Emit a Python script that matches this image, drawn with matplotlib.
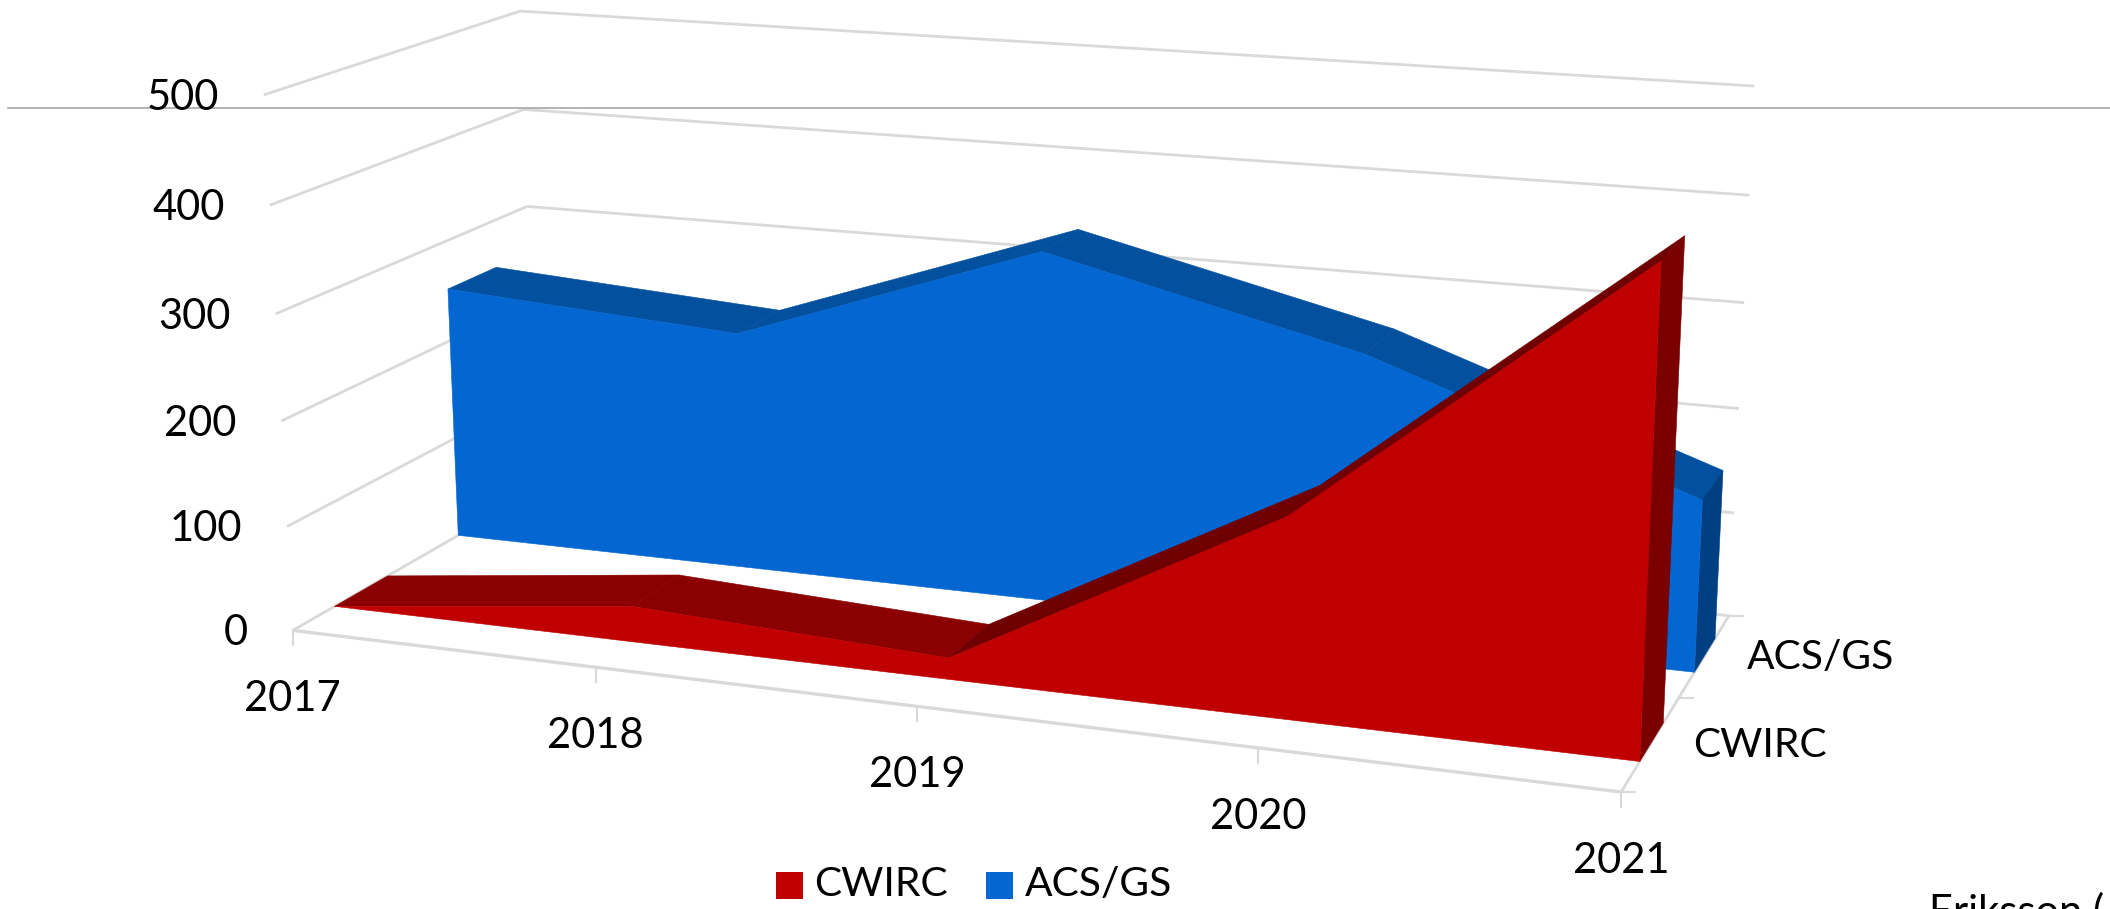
import numpy as np
import matplotlib
matplotlib.use('Agg')
import matplotlib.pyplot as plt
from matplotlib.patches import Polygon, Rectangle

plt.rcParams['font.family'] = ['Lato', 'DejaVu Sans']

years = ['2017', '2018', '2019', '2020', '2021']
series_names = ['CWIRC', 'ACS/GS']
y_ticks = [0, 100, 200, 300, 400, 500]
cwirc = [0, 34, 20, 182, 428]
acs_gs = [252, 233, 337, 266, 160]

# depth slots of the two series, 0 = front of the floor, 1 = back wall
cwirc_depth = (0.155, 0.36)
acs_depth = (0.65, 0.855)

# camera: (year index, value, depth) -> pixel, fitted on the axis corners
cam_world = [(0, 0, 0), (0, 100, 0), (0, 200, 0), (0, 300, 0), (0, 400, 0), (0, 500, 0),
             (1, 0, 0), (2, 0, 0), (3, 0, 0), (4, 0, 0),
             (0, 0, 1), (0, 300, 1), (0, 400, 1), (0, 500, 1),
             (4, 0, 1), (4, 100, 1), (4, 200, 1), (4, 300, 1), (4, 400, 1), (4, 500, 1),
             (4, 0, 0.5)]
cam_pixel = [(291.5, 630), (287, 527), (281, 422), (276, 315), (270.5, 205), (265, 95),
             (595, 668), (916, 706), (1258, 745), (1621.4, 792),
             (540, 490), (527, 206), (522, 108), (520, 11),
             (1728, 616), (1733, 514), (1739, 409), (1744, 303), (1749, 195), (1755, 86),
             (1681, 698)]


def fit_camera(world, pixel):
    rows, rhs = [], []
    for (x, v, z), (px, py) in zip(world, pixel):
        v = v / 100
        rows.append([x, v, z, 1, 0, 0, 0, 0, -px * x, -px * v, -px * z])
        rhs.append(px)
        rows.append([0, 0, 0, 0, x, v, z, 1, -py * x, -py * v, -py * z])
        rhs.append(py)
    sol = np.linalg.lstsq(np.array(rows), np.array(rhs), rcond=None)[0]
    return np.append(sol, 1).reshape(3, 4)


camera = fit_camera(cam_world, cam_pixel)


def project(x, v, z):
    h = camera @ np.array([x, v / 100, z, 1.0])
    return h[0] / h[2], h[1] / h[2]


fig = plt.figure(figsize=(21.10, 9.09), dpi=100)
ax = fig.add_axes([0, 0, 1, 1])
ax.set_xlim(0, 2110)
ax.set_ylim(909, 0)
ax.axis('off')

GRID = '#D9D9D9'


def line3d(p0, p1, lw=2.0):
    a, b = project(*p0), project(*p1)
    ax.plot([a[0], b[0]], [a[1], b[1]], color=GRID, lw=lw, solid_capstyle='butt', zorder=1)


# walls
for t in y_ticks:
    line3d((0, t, 0), (0, t, 1))
    line3d((0, t, 1), (4, t, 1))
line3d((0, 0, 0), (4, 0, 0), lw=2.4)
line3d((4, 0, 0), (4, 0, 1))

# ticks
for i in range(len(years)):
    px, py = project(i, 0, 0)
    ax.plot([px, px], [py, py + 15], color=GRID, lw=1.5, zorder=1)
for z in [0, 0.5, 1]:
    px, py = project(4, 0, z)
    ax.plot([px, px + 14], [py, py], color=GRID, lw=1.5, zorder=1)


def face(points, color, z):
    ax.add_patch(Polygon([project(*p) for p in points], closed=True, facecolor=color,
                         edgecolor=color, lw=0.4, zorder=z))


def area(values, depth, front, top_fall, top_rise, side, z):
    zf, zb = depth
    n = len(values)
    for i in range(n - 1):
        col = top_rise if values[i + 1] - values[i] > 60 else top_fall
        face([(i, values[i], zf), (i + 1, values[i + 1], zf),
              (i + 1, values[i + 1], zb), (i, values[i], zb)], col, z)
    face([(n - 1, values[-1], zf), (n - 1, values[-1], zb), (n - 1, 0, zb), (n - 1, 0, zf)], side, z)
    pts = [(i, values[i], zf) for i in range(n)] + [(n - 1, 0, zf), (0, 0, zf)]
    face(pts, front, z + 0.1)


area(acs_gs, acs_depth, '#0366D1', '#03509F', '#03509F', '#004082', 2)
area(cwirc, cwirc_depth, '#C00000', '#8B0000', '#700000', '#7A0000', 3)

# the stray rule across the slide
ax.plot([8, 2110], [108, 108], color='#A6A6A6', lw=1.2, zorder=4)

FS = 30
for t in y_ticks:
    px, py = project(0, t, 0)
    ax.text(px - 45, py + 3, str(t), ha='right', va='center', fontsize=FS, color='black', zorder=5)
for i, lab in enumerate(years):
    px, py = project(i, 0, 0)
    ax.text(px, py + 69, lab, ha='center', va='center', fontsize=FS, color='black', zorder=5)
for name, z in zip(series_names, [0.25, 0.75]):
    px, py = project(4, 0, z)
    ax.text(px + 42, py + 2, name, ha='left', va='center', fontsize=29.3, color='black', zorder=5)

# legend
ax.add_patch(Rectangle((776, 872), 27, 27, facecolor='#C00000', edgecolor='none'))
ax.text(814, 885, series_names[0], ha='left', va='center', fontsize=29.3, color='black')
ax.add_patch(Rectangle((986, 872), 27, 27, facecolor='#0366D1', edgecolor='none'))
ax.text(1025, 885, series_names[1], ha='left', va='center', fontsize=29.3, color='black')

ax.text(1929, 925, 'Eriksson (', ha='left', va='baseline', fontsize=FS, color='black', clip_on=False)

fig.savefig('out.png', dpi=100)
